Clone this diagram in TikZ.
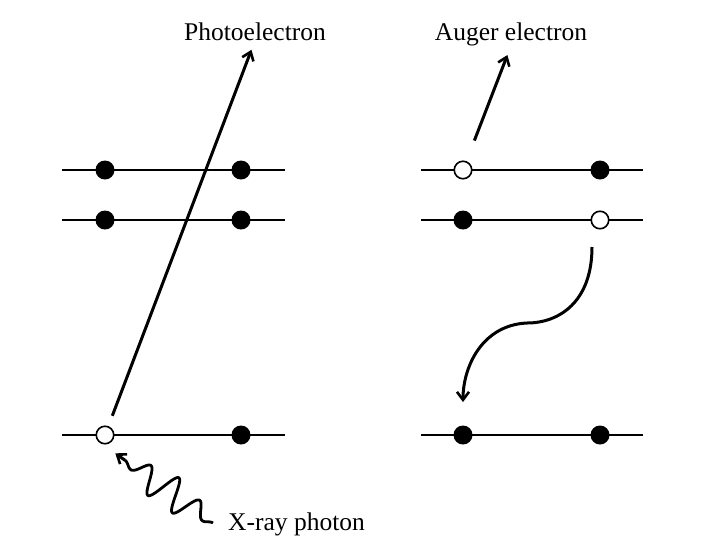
\documentclass[tikz,border=0pt]{standalone}
\usepackage{fontspec}
\setmainfont{Liberation Serif}
\usetikzlibrary{arrows.meta, calc}

\begin{document}
\begin{tikzpicture}[
  x=1pt, y=1pt,
  font=\fontsize{25.5}{30}\selectfont,
  level/.style={line width=2.8pt},
  full/.style={circle, fill=black, inner sep=0pt, minimum size=19pt},
  hole/.style={circle, draw=black, fill=white, line width=1.6pt, inner sep=0pt,
               minimum size=17.5pt},
  arr/.style={-{Straight Barb[length=8pt, width=12pt, line width=2.6pt]},
              line width=3pt},
  lbl/.style={inner sep=0pt},
]
\useasboundingbox (0,0) rectangle (709,-550);

% ── energy levels ────────────────────────────────────────────────────────────
\foreach \y in {170, 220, 435} {
  \draw[level] (62,-\y) -- (285,-\y);
  \draw[level] (421,-\y) -- (643,-\y);
}

% ── left: photoemission ──────────────────────────────────────────────────────
\node[full] (l1a) at (105,-170) {};
\node[full] (l1b) at (241,-170) {};
\node[full] (l2a) at (105,-220) {};
\node[full] (l2b) at (241,-220) {};
\node[hole] (l3a) at (105,-435) {};
\node[full] (l3b) at (241,-435) {};

\node[lbl, anchor=base] (photo) at (255,-40) {Photoelectron};
\node[lbl, anchor=base west] (xray) at (228,-530) {X-ray photon};

\draw[arr, shorten <=11pt, shorten >=10pt] (l3a) -- (photo.south);

% wavy photon
\begin{scope}[shift={(213,-523)}, rotate=144.5]
  \draw[line width=2.8pt, line join=round]
    plot[domain=0:108, samples=180, smooth]
      (\x, {17*sin(1.6667*\x)*sin(11.667*\x)})
    coordinate (wend);
  \coordinate (wtip) at (120,0);
\end{scope}
\draw[arr] (wend) -- (wtip);

% ── right: Auger process ─────────────────────────────────────────────────────
\node[hole] (r1a) at (463,-170) {};
\node[full] (r1b) at (600,-170) {};
\node[full] (r2a) at (463,-220) {};
\node[hole] (r2b) at (600,-220) {};
\node[full] (r3a) at (463,-435) {};
\node[full] (r3b) at (600,-435) {};

\node[lbl, anchor=base] (auger) at (511,-40) {Auger electron};

\draw[arr, shorten <=22pt, shorten >=10pt] (r1a) -- (auger.south);

% relaxation
\draw[arr] ([xshift=-8pt, yshift=-27pt]r2b.center)
    .. controls +(0,-55) and +(32,0) .. (527,-323)
    .. controls +(-45,-2) and +(0,35) .. ([yshift=33pt]r3a.center);

\end{tikzpicture}
\end{document}
